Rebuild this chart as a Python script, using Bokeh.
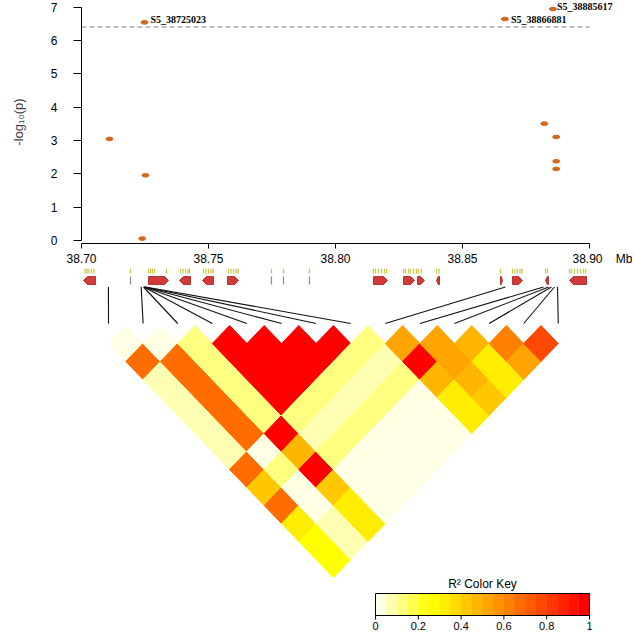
import colorsys
from bokeh.plotting import figure
from bokeh.models import Range1d, FixedTicker, ColumnDataSource
from bokeh.layouts import column
from bokeh.embed import file_html
from bokeh.resources import INLINE
from bokeh.core.properties import value

# ---------------- data ----------------
# association results (position in Mb, -log10 p)
snp_mb = [38.7110, 38.7248, 38.7252, 38.7239, 38.8667, 38.8856, 38.8822, 38.8869, 38.8869, 38.8869]
snp_logp = [3.05, 6.55, 1.96, 0.06, 6.65, 6.95, 3.51, 3.11, 2.38, 2.15]
snp_names = ["", "S5_38725023", "", "", "S5_38866881", "S5_38885617", "", "", "", ""]
threshold = 6.41
x_ticks = [38.70, 38.75, 38.80, 38.85, 38.90]
x_tick_labels = ["38.70", "38.75", "38.80", "38.85", "38.90"]
x_unit = "Mb"
y_ticks = [0, 1, 2, 3, 4, 5, 6, 7]

# gene track (Mb)
gene_start = [38.70079, 38.72638, 38.73858, 38.74764, 38.75748, 38.81496, 38.82677,
              38.83228, 38.83976, 38.86496, 38.86969, 38.88268, 38.89213]
gene_end = [38.70551, 38.73425, 38.74291, 38.75197, 38.76181, 38.82047, 38.83110,
            38.83504, 38.84094, 38.86575, 38.87362, 38.88386, 38.89882]
gene_strand = [-1, 1, -1, -1, 1, 1, 1, 1, -1, 1, 1, -1, -1]
small_gene_mb = [38.71929, 38.77480, 38.77953, 38.78976]
exon_mb = [38.70138, 38.70217, 38.70295, 38.70394, 38.70492, 38.71929,
           38.72638, 38.72717, 38.72795, 38.72874, 38.73346,
           38.73898, 38.73996, 38.74094, 38.74193, 38.74252,
           38.74803, 38.74902, 38.75000, 38.75098, 38.75177,
           38.75787, 38.75886, 38.75984, 38.76083, 38.76161,
           38.77480, 38.77953, 38.78976,
           38.81496, 38.81575, 38.81693, 38.81811, 38.81929, 38.82008,
           38.82677, 38.82756, 38.82874, 38.82953, 38.83071, 38.83189, 38.83268, 38.83386,
           38.83976, 38.84075, 38.86496,
           38.86969, 38.87067, 38.87165, 38.87264, 38.87343,
           38.88268, 38.88346,
           38.89213, 38.89291, 38.89409, 38.89528, 38.89646, 38.89764, 38.89843]

# SNPs in the LD heatmap (Mb) and pairwise r^2 (row i holds pairs i, i+1..13)
ld_snp_mb = [38.7106, 38.7235, 38.7244, 38.7246, 38.7247, 38.7248, 38.7250, 38.7252,
             38.8669, 38.8819, 38.8839, 38.8850, 38.8862, 38.8874]
ld_r2 = [
    [0.02, 0.68, 0.07, 0.07, 0.07, 0.07, 0.07, 0.68, 0.42, 0.68, 0.33, 0.27, 0.27],
    [0.03, 0.66, 0.66, 0.66, 0.66, 0.66, 0.02, 0.12, 0.02, 0.02, 0.07, 0.07],
    [0.12, 0.12, 0.12, 0.12, 0.12, 0.97, 0.47, 0.97, 0.42, 0.30, 0.33],
    [0.98, 0.98, 0.98, 0.98, 0.12, 0.07, 0.12, 0.02, 0.02, 0.02],
    [0.98, 0.98, 0.98, 0.12, 0.07, 0.12, 0.02, 0.02, 0.02],
    [0.98, 0.98, 0.12, 0.07, 0.12, 0.02, 0.02, 0.02],
    [0.98, 0.12, 0.07, 0.12, 0.02, 0.02, 0.02],
    [0.12, 0.07, 0.12, 0.02, 0.02, 0.02],
    [0.52, 0.97, 0.47, 0.33, 0.33],
    [0.52, 0.52, 0.47, 0.42],
    [0.47, 0.33, 0.33],
    [0.64, 0.52],
    [0.78],
]
key_ticks = [0, 0.2, 0.4, 0.6, 0.8, 1.0]
key_tick_labels = ["0", "0.2", "0.4", "0.6", "0.8", "1"]
key_title = "R\u00b2 Color Key"


# ---------------- palette (R heat.colors(20), reversed) ----------------
def heat_colors(n=20):
    j = n // 4
    i = n - j
    cols = []
    for k in range(i):
        h = (k / (i - 1)) * (1 / 6)
        cols.append(colorsys.hsv_to_rgb(h, 1, 1))
    s0, s1 = 1 - 1 / (2 * j), 1 / (2 * j)
    for k in range(j):
        s = s0 + (s1 - s0) * k / (j - 1)
        cols.append(colorsys.hsv_to_rgb(1 / 6, s, 1))
    return ["#%02X%02X%02X" % tuple(int(round(c * 255)) for c in rgb) for rgb in cols]


palette = list(reversed(heat_colors(20)))

# ---------------- layout constants ----------------
W = 632
PX_PER_MB = 2540.0
FRAME_L = 81
X0_MB = x_ticks[0]
X_END = X0_MB + (W - FRAME_L) / PX_PER_MB


def img_x_to_mb(px):
    return X0_MB + (px - FRAME_L) / PX_PER_MB


SANS = "Liberation Sans"
NB = "\u00a0"

# ---------------- top: association plot ----------------
H1 = 268
p1 = figure(width=W, height=H1, output_backend="svg", toolbar_location=None,
            x_range=Range1d(X0_MB, X_END),
            y_range=Range1d(-3 / 34.0, 7 + 7 / 34.0),
            min_border_left=FRAME_L, min_border_right=0, min_border_top=0, min_border_bottom=20)
p1.outline_line_color = None
p1.grid.visible = False
p1.background_fill_color = "white"

overrides = {t: lab for t, lab in zip(x_ticks, x_tick_labels)}
overrides[x_ticks[-1]] = NB * 9 + x_tick_labels[-1] + NB * 4 + x_unit
p1.xaxis.ticker = FixedTicker(ticks=x_ticks)
p1.xaxis.major_label_overrides = overrides
p1.xaxis.bounds = (x_ticks[0], x_ticks[-1])
p1.xaxis.major_tick_out = 5
p1.xaxis.major_tick_in = 0
p1.xaxis.major_label_standoff = 3
p1.yaxis.ticker = FixedTicker(ticks=y_ticks)
p1.yaxis.bounds = (y_ticks[0], y_ticks[-1])
p1.yaxis.major_tick_out = 8
p1.yaxis.major_tick_in = 0
p1.yaxis.major_label_standoff = 16
p1.yaxis.major_label_orientation = "horizontal"
p1.yaxis.axis_label = "-log\u2081\u2080(p)"
p1.yaxis.axis_label_text_font_style = "normal"
p1.yaxis.axis_label_text_font = SANS
p1.yaxis.axis_label_text_font_size = "13px"
p1.yaxis.axis_label_standoff = 22
for ax in (p1.xaxis, p1.yaxis):
    ax.minor_tick_line_color = None
    ax.major_label_text_font = SANS
    ax.major_label_text_font_size = "12px"
    ax.major_label_text_color = "black"
    ax.axis_line_color = "black"
    ax.major_tick_line_color = "black"

p1.line([x_ticks[0], x_ticks[-1]], [threshold, threshold], line_color="#808080",
        line_dash="5 3", line_width=1)
p1.ellipse(x=snp_mb, y=snp_logp, width=7 / PX_PER_MB, height=0.11,
           fill_color="#D2691E", line_color="#D2691E")

lab_idx = [k for k, nm in enumerate(snp_names) if nm]
lab_dx = {1: 6, 4: 6, 5: 4}
lab_dy = {1: -3, 4: 0, 5: -3}
lab_src = ColumnDataSource(dict(
    x=[snp_mb[k] for k in lab_idx], y=[snp_logp[k] for k in lab_idx],
    t=[snp_names[k] for k in lab_idx],
    dx=[lab_dx[k] for k in lab_idx], dy=[lab_dy[k] for k in lab_idx]))
p1.text(x="x", y="y", text="t", source=lab_src, x_offset="dx", y_offset="dy",
        text_font=value("Liberation Serif"), text_font_style="bold",
        text_font_size="10px", text_baseline="middle", text_align="left", text_color="black")

# ---------------- bottom: genes, connectors, LD heatmap, key ----------------
H2 = 365
p2 = figure(width=W, height=H2, output_backend="svg", toolbar_location=None,
            x_range=Range1d(X0_MB, X_END), y_range=Range1d(H2, 0),
            min_border_left=FRAME_L, min_border_right=0, min_border_top=0, min_border_bottom=0)
p2.axis.visible = False
p2.grid.visible = False
p2.outline_line_color = None

# exons
p2.rect(x=exon_mb, y=2.5, width=1.3 / PX_PER_MB, height=5, fill_color="#C8C846",
        line_color=None)
# genes as arrows
GTOP, GBOT = 8.0, 16.0
gxs, gys = [], []
for s, e, d in zip(gene_start, gene_end, gene_strand):
    tip = min(4 / PX_PER_MB, (e - s) * 0.6)
    mid = (GTOP + GBOT) / 2
    if d > 0:
        gxs.append([s, e - tip, e, e - tip, s])
    else:
        gxs.append([e, s + tip, s, s + tip, e])
    gys.append([GTOP, GTOP, mid, GBOT, GBOT])
p2.patches(gxs, gys, fill_color="#D23A3A", line_color="#A01E1E", line_width=0.8)
p2.segment(x0=small_gene_mb, y0=GTOP, x1=small_gene_mb, y1=GBOT, line_color="#8C8C8C",
           line_width=1.2)

# heatmap geometry
HM_LEFT_PX, HM_STEP_PX = 108, 34.6
step = HM_STEP_PX / PX_PER_MB
hm_x0 = img_x_to_mb(HM_LEFT_PX)
HM_TOP, HALF_H = 57.0, 18.0
hm_vertex = [hm_x0 + step * i for i in range(len(ld_snp_mb))]

p2.segment(x0=ld_snp_mb, y0=18.5, x1=hm_vertex, y1=55, line_color="#111111", line_width=1.1)

xs, ys, cols = [], [], []
for i, row in enumerate(ld_r2):
    for k, r in enumerate(row):
        j = i + 1 + k
        cx = hm_x0 + step * (i + j) / 2
        cy = HM_TOP + HALF_H * (j - i)
        xs.append([cx - step / 2, cx, cx + step / 2, cx])
        ys.append([cy, cy - HALF_H, cy, cy + HALF_H])
        cols.append(palette[min(int(r * 20), 19)])
p2.patches(xs, ys, fill_color=cols, line_color=cols, line_width=1.0)

# colour key
KEY_L, KEY_W = 375, 214
KEY_T, KEY_B = 325, 347


def kx(v):
    return img_x_to_mb(KEY_L + KEY_W * v)


nk = len(palette)
p2.quad(left=[kx(k / nk) for k in range(nk)], right=[kx((k + 1) / nk) for k in range(nk)],
        top=KEY_T, bottom=KEY_B, fill_color=palette, line_color=palette, line_width=0.5)
p2.quad(left=[kx(0)], right=[kx(1)], top=KEY_T, bottom=KEY_B, fill_color=None,
        line_color="black", line_width=1)
p2.segment(x0=[kx(v) for v in key_ticks], y0=KEY_B, x1=[kx(v) for v in key_ticks],
           y1=KEY_B + 4, line_color="black", line_width=1)
p2.text(x=[kx(v) for v in key_ticks], y=KEY_B + 10, text=key_tick_labels,
        text_font=value(SANS), text_font_size="11px", text_align="center",
        text_baseline="middle", text_color="black")
p2.text(x=[kx(0.5)], y=[KEY_T - 10], text=[key_title], text_font=value(SANS),
        text_font_size="12px", text_align="center", text_baseline="middle",
        text_color="black")

layout = column(p1, p2, spacing=0)
open("out.html", "w").write(file_html(layout, INLINE))
